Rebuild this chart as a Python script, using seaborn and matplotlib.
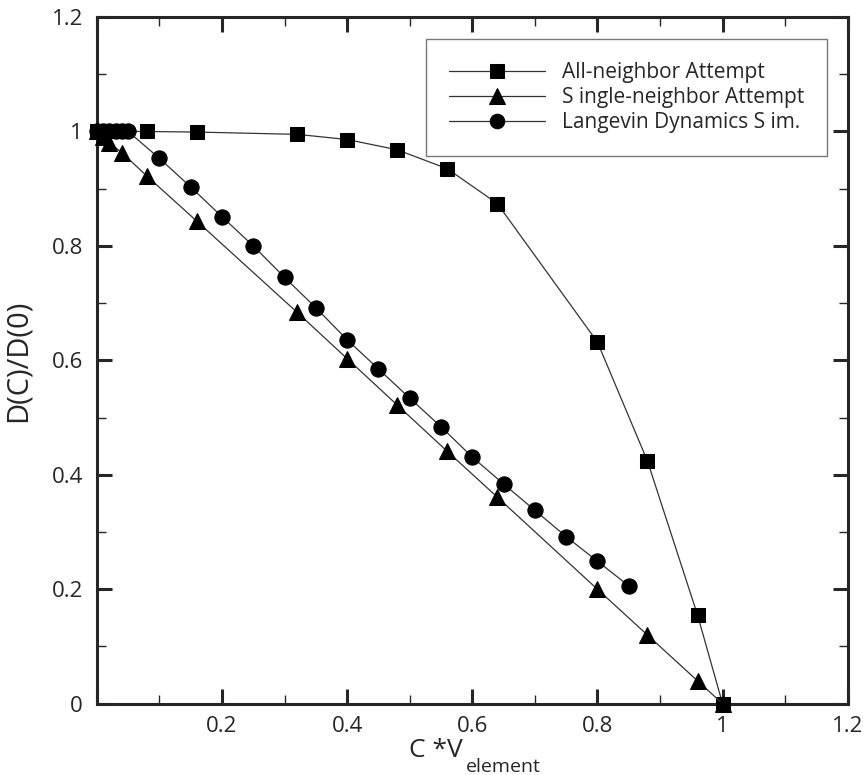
import numpy as np
import pandas as pd
import matplotlib
matplotlib.use('Agg')
import matplotlib.pyplot as plt
from matplotlib.ticker import MultipleLocator, FuncFormatter
import seaborn as sns

# data
all_x = [0, 0.01, 0.02, 0.04, 0.08, 0.16, 0.32, 0.40, 0.48, 0.56, 0.64, 0.80, 0.88, 0.96, 1.0]
all_y = [1.0, 1.0, 1.0, 1.0, 1.0, 0.999, 0.995, 0.986, 0.968, 0.935, 0.874, 0.632, 0.424, 0.155, 0.0]

single_x = [0, 0.01, 0.02, 0.04, 0.08, 0.16, 0.32, 0.40, 0.48, 0.56, 0.64, 0.80, 0.88, 0.96, 1.0]
single_y = [1.0, 0.99, 0.98, 0.963, 0.922, 0.843, 0.684, 0.603, 0.522, 0.441, 0.361, 0.2, 0.12, 0.04, 0.0]

lang_x = [0, 0.01, 0.02, 0.03, 0.04, 0.05, 0.10, 0.15, 0.20, 0.25, 0.30, 0.35, 0.40, 0.45,
          0.50, 0.55, 0.60, 0.65, 0.70, 0.75, 0.80, 0.85]
lang_y = [1.0, 1.0, 1.0, 1.0, 1.0, 1.0, 0.953, 0.903, 0.851, 0.800, 0.745, 0.692, 0.636, 0.585,
          0.534, 0.484, 0.431, 0.384, 0.338, 0.292, 0.249, 0.206]

series = [
    ('All-neighbor Attempt', all_x, all_y, 's', 10),
    ('S ingle-neighbor Attempt', single_x, single_y, '^', 12),
    ('Langevin Dynamics S im.', lang_x, lang_y, 'o', 11),
]

sns.set_style('ticks')
plt.rcParams['font.family'] = ['Open Sans', 'DejaVu Sans']

fig = plt.figure(figsize=(8.65, 7.75), dpi=100)
ax = fig.add_axes([0.112, 0.092, 0.868, 0.886])

for name, xs, ys, mk, ms in series:
    df = pd.DataFrame({'x': xs, 'y': ys})
    sns.lineplot(data=df, x='x', y='y', ax=ax, label=name, color='#333333', lw=0.9,
                 marker=mk, markersize=ms, markerfacecolor='black', markeredgecolor='black',
                 sort=False, estimator=None, clip_on=False, zorder=3)

ax.set_xlim(0, 1.2)
ax.set_ylim(0, 1.2)
ax.xaxis.set_major_locator(MultipleLocator(0.2))
ax.xaxis.set_minor_locator(MultipleLocator(0.1))
ax.yaxis.set_major_locator(MultipleLocator(0.2))
ax.yaxis.set_minor_locator(MultipleLocator(0.1))
ax.xaxis.set_major_formatter(FuncFormatter(lambda v, p: '' if abs(v) < 1e-9 else '%g' % round(v, 2)))
ax.yaxis.set_major_formatter(FuncFormatter(lambda v, p: '%g' % round(v, 2)))

ax.tick_params(which='both', direction='in', top=True, right=True, labelsize=16)
ax.tick_params(axis='x', pad=9)
ax.tick_params(axis='y', pad=10)
ax.tick_params(which='major', length=11, width=2.2)
ax.tick_params(which='minor', length=6.5, width=1)
for s in ax.spines.values():
    s.set_linewidth(2.2)

# x label: "C *V" with a near full-size "element" subscript
ax.set_xlabel('C *V', fontsize=19)
ax.xaxis.label.set_horizontalalignment('right')
ax.xaxis.label.set_verticalalignment('baseline')
ax.xaxis.set_label_coords(0.487, -0.077)
ax.text(0.491, -0.099, 'element', transform=ax.transAxes, fontsize=14,
        ha='left', va='baseline')

ax.set_ylabel('D(C)/D(0)', fontsize=21)
ax.yaxis.set_label_coords(-0.085, 0.5)

leg = ax.legend(loc='upper right', bbox_to_anchor=(0.972, 0.968), fontsize=15, handlelength=4.6,
                frameon=True, fancybox=False, borderpad=1.1, labelspacing=0.2, handletextpad=0.8,
                borderaxespad=0, markerscale=0.95)
leg.get_frame().set_edgecolor('#555555')
leg.get_frame().set_linewidth(1.0)

fig.savefig('out.png', dpi=100)
